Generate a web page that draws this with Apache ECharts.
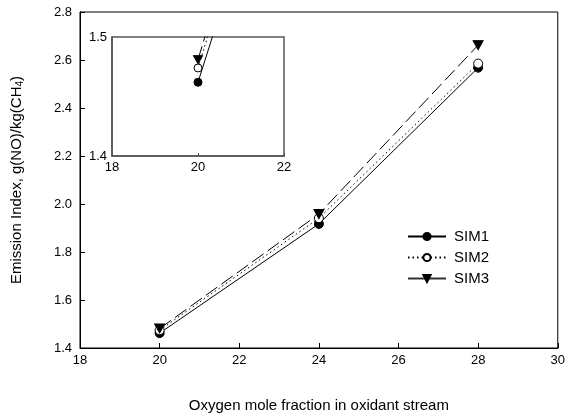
<!DOCTYPE html>
<html><head><meta charset="utf-8">
<script src="https://cdn.jsdelivr.net/npm/echarts@6/dist/echarts.min.js"></script>
<style>html,body{margin:0;padding:0;background:#fff}#c{width:568px;height:420px}</style>
</head><body><div id="c"></div>
<script>
var xValues = [20, 24, 28];
var sim1 = [1.462, 1.917, 2.568];
var sim2 = [1.474, 1.941, 2.585];
var sim3 = [1.481, 1.958, 2.662];
var seriesNames = ['SIM1', 'SIM2', 'SIM3'];

function pts(v){ return xValues.map(function(x,i){return [x, v[i]];}); }
var tri = 'path://M0,0 L10,0 L5,9 Z';
var font = 'Liberation Sans, Arial, sans-serif';
var defs = [
  {name: seriesNames[0], data: sim1, symbol: 'circle', fill: '#000', type: 'solid'},
  {name: seriesNames[1], data: sim2, symbol: 'circle', fill: '#fff', type: [1.5, 3]},
  {name: seriesNames[2], data: sim3, symbol: tri, fill: '#000', type: [14, 5]}
];
var series = [];
defs.forEach(function(d){
  series.push({name: d.name, type: 'line', xAxisIndex: 0, yAxisIndex: 0, data: pts(d.data),
    symbol: d.symbol, symbolSize: d.symbol === tri ? [10, 9] : 9, showSymbol: true,
    lineStyle: {color: '#000', width: 1, type: d.type},
    itemStyle: {color: d.fill, borderColor: '#000', borderWidth: 1}, z: 3, animation: false});
});
defs.forEach(function(d){
  series.push({name: d.name, type: 'line', xAxisIndex: 1, yAxisIndex: 1, data: pts(d.data),
    symbol: d.symbol, symbolSize: d.symbol === tri ? [9, 8] : 8, clip: true,
    lineStyle: {color: '#000', width: 1, type: d.type},
    itemStyle: {color: d.fill, borderColor: '#000', borderWidth: 1}, z: 5, animation: false});
});

var chart = echarts.init(document.getElementById('c'));
chart.setOption({
  animation: false,
  backgroundColor: '#fff',
  textStyle: {fontFamily: font},
  grid: [
    {left: 80, right: 10, top: 12, bottom: 72, show: true, borderColor: '#000', borderWidth: 1},
    {left: 112, top: 37, width: 172, height: 119, show: true, borderColor: '#555', borderWidth: 1.5, backgroundColor: '#fff', z: 4}
  ],
  legend: {
    orient: 'vertical', left: 402, top: 224, itemWidth: 38, itemHeight: 9, itemGap: 6,
    textStyle: {fontSize: 15, color: '#000', fontFamily: font, padding: [0, 0, 0, 3]},
    data: [
      {name: 'SIM1'},
      {name: 'SIM2'},
      {name: 'SIM3', lineStyle: {type: 'solid', color: '#333'}}
    ]
  },
  xAxis: [
    {type: 'value', gridIndex: 0, min: 18, max: 30, interval: 2,
     name: 'Oxygen mole fraction in oxidant stream', nameLocation: 'middle', nameGap: 50,
     nameTextStyle: {fontSize: 15, color: '#000'},
     axisLine: {lineStyle: {color: '#000', width: 1}},
     axisTick: {inside: true, length: 5, lineStyle: {color: '#000'}},
     axisLabel: {fontSize: 13, color: '#000', margin: 6},
     splitLine: {show: false}},
    {type: 'value', gridIndex: 1, min: 18, max: 22, interval: 2,
     axisLine: {lineStyle: {color: '#555', width: 1.5}},
     axisTick: {inside: true, length: 3, lineStyle: {color: '#555'}},
     axisLabel: {fontSize: 13, color: '#000', margin: 5},
     splitLine: {show: false}, z: 6}
  ],
  yAxis: [
    {type: 'value', gridIndex: 0, min: 1.4, max: 2.8, interval: 0.2,
     name: '{n|Emission Index, g(NO)/kg(CH}{s|4}{n|)}', nameLocation: 'middle', nameGap: 55,
     nameTextStyle: {rich: {n: {fontSize: 15, color: '#000', fontFamily: font},
                            s: {fontSize: 10, color: '#000', fontFamily: font, verticalAlign: 'bottom', padding: [7, 0, 0, 0]}}},
     axisLine: {lineStyle: {color: '#000', width: 1}},
     axisTick: {inside: true, length: 5, lineStyle: {color: '#000'}},
     axisLabel: {fontSize: 13, color: '#000', margin: 8, formatter: function(v){return v.toFixed(1);}},
     splitLine: {show: false}},
    {type: 'value', gridIndex: 1, min: 1.4, max: 1.5, interval: 0.1,
     axisLine: {lineStyle: {color: '#555', width: 1.5}},
     axisTick: {show: false},
     axisLabel: {fontSize: 13, color: '#000', margin: 5, formatter: function(v){return v.toFixed(1);}},
     splitLine: {show: false}, z: 6}
  ],
  series: series
});
</script></body></html>
